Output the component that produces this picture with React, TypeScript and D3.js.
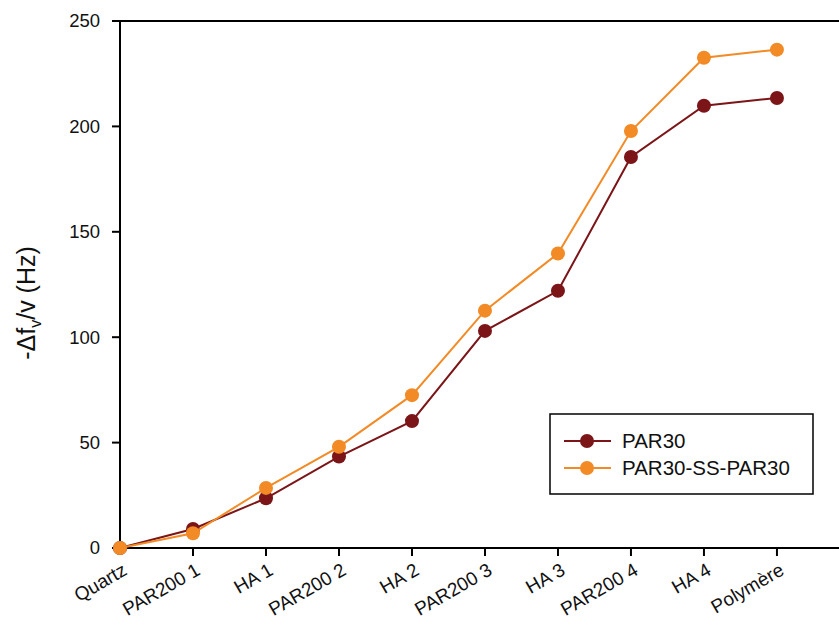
import React from "react";
import * as d3 from "d3";

const categories = ["Quartz", "PAR200 1", "HA 1", "PAR200 2", "HA 2", "PAR200 3", "HA 3", "PAR200 4", "HA 4", "Polymère"];
const par30 = [0, 9, 23.6, 43.4, 60.2, 103, 122, 185.5, 209.8, 213.5];
const par30ss = [0, 7, 28.5, 48, 72.5, 112.6, 139.7, 197.8, 232.6, 236.4];
const yTicks = [0, 50, 100, 150, 200, 250];
const seriesNames = ["PAR30", "PAR30-SS-PAR30"];
const colors = ["#7b1518", "#f28a26"];

const W = 839, H = 621;
const left = 120, right = 839, top = 21, bottom = 548;

export default function App() {
  const x = d3.scaleLinear().domain([0, 9.85]).range([left, right]);
  const y = d3.scaleLinear().domain([0, 250]).range([bottom, top]);
  const line = d3.line<number>().x((_, i) => x(i)).y((d) => y(d));
  const series = [par30, par30ss];
  const font = "Arial, 'Liberation Sans', sans-serif";

  return (
    <svg width={W} height={H} style={{ position: "absolute", left: 0, top: 0, background: "#fff" }} fontFamily={font}>
      <rect x={0} y={0} width={W} height={H} fill="#fff" />
      {/* frame */}
      <line x1={left} x2={right} y1={top} y2={top} stroke="#000" strokeWidth={2} />
      <line x1={left} x2={left} y1={top} y2={bottom} stroke="#000" strokeWidth={2} />
      <line x1={left} x2={right} y1={bottom} y2={bottom} stroke="#000" strokeWidth={2} />
      {/* y ticks */}
      {yTicks.map((t) => (
        <g key={t}>
          <line x1={left - 8} x2={left} y1={y(t)} y2={y(t)} stroke="#000" strokeWidth={2} />
          <text x={left - 20} y={y(t)} dy="0.35em" textAnchor="end" fontSize={18.5} fill="#111">{t}</text>
        </g>
      ))}
      {/* x ticks */}
      {categories.map((c, i) => (
        <g key={c}>
          {i > 0 && <line x1={x(i)} x2={x(i)} y1={bottom} y2={bottom + 8} stroke="#000" strokeWidth={2} />}
          <text
            transform={`translate(${x(i) + 5},${bottom + 20}) rotate(-30)`}
            textAnchor="end"
            dy="0.35em"
            fontSize={19}
            fill="#111"
          >{c}</text>
        </g>
      ))}
      {/* y label */}
      <text transform={`translate(35,303) rotate(-90)`} textAnchor="middle" fontSize={25} fill="#111">
        -Δf<tspan fontSize={16} dy={6}>v</tspan><tspan dy={-6}>/v (Hz)</tspan>
      </text>
      {/* series */}
      {series.map((s, k) => (
        <g key={k}>
          <path d={line(s) || ""} fill="none" stroke={colors[k]} strokeWidth={2} />
          {s.map((v, i) => (
            <circle key={i} cx={x(i)} cy={y(v)} r={7} fill={colors[k]} />
          ))}
        </g>
      ))}
      {/* legend */}
      <rect x={550} y={414} width={263} height={80} fill="#fff" stroke="#000" strokeWidth={1.5} />
      {seriesNames.map((n, k) => (
        <g key={n} transform={`translate(0,${441 + k * 27})`}>
          <line x1={564} x2={611} y1={0} y2={0} stroke={colors[k]} strokeWidth={2} />
          <circle cx={587} cy={0} r={7} fill={colors[k]} />
          <text x={622} y={0} dy="0.35em" fontSize={20.5} fill="#111">{n}</text>
        </g>
      ))}
    </svg>
  );
}
